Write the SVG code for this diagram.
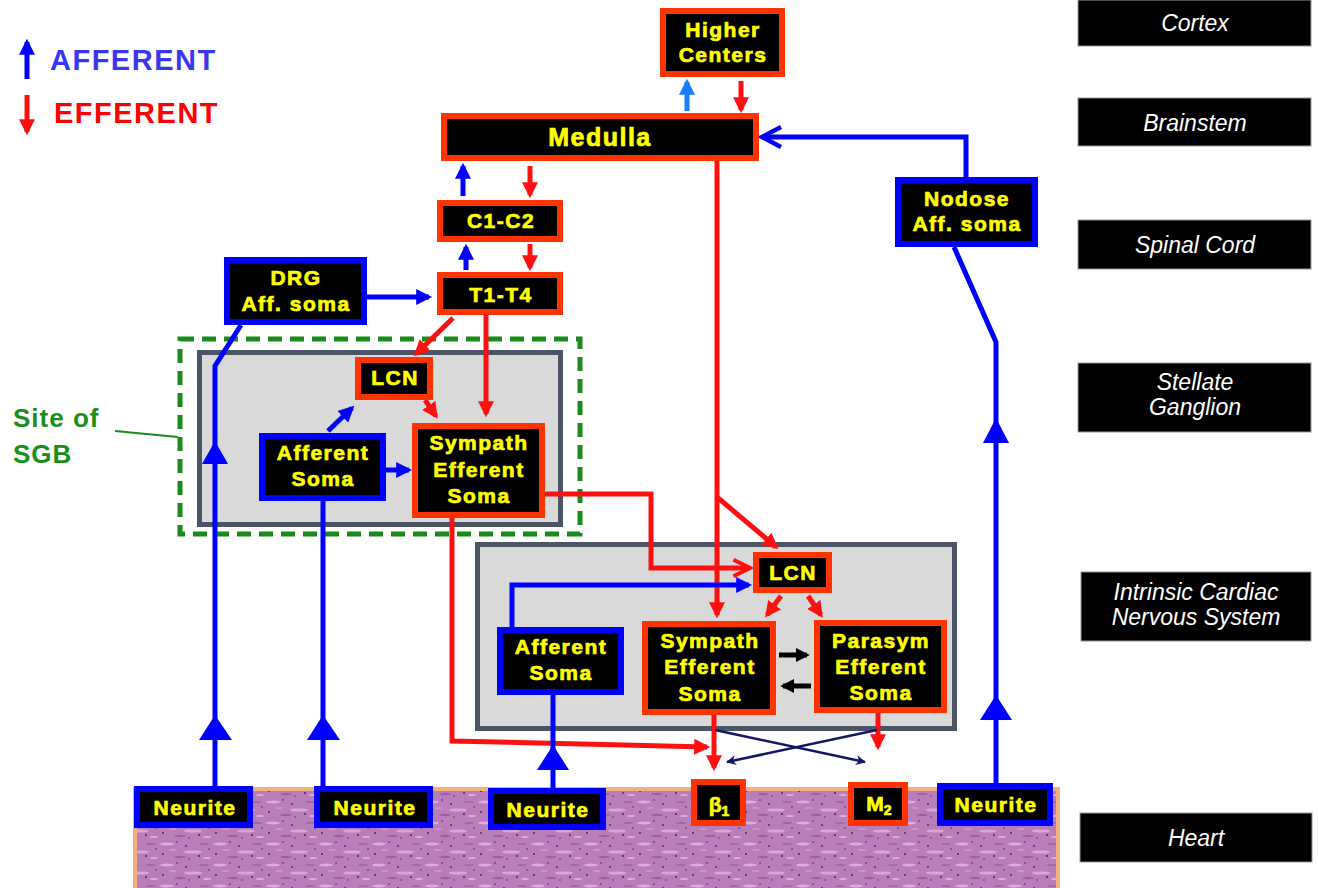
<svg xmlns="http://www.w3.org/2000/svg" width="1318" height="888" viewBox="0 0 1318 888">
<defs>
<style>
.bx{font-family:"Liberation Sans",Arial,sans-serif;font-weight:bold;fill:#ffff00;stroke:#ffff00;stroke-width:0.7px;text-anchor:middle;font-size:21px;letter-spacing:1.5px}
.lvl{font-family:"Liberation Sans",Arial,sans-serif;font-style:italic;fill:#ffffff;text-anchor:middle;font-size:23px}
.lvlbox{fill:#000000;stroke:#9a9a9a;stroke-width:1}
.efb{fill:#000000;stroke:#ff3300;stroke-width:6}
.afb{fill:#000000;stroke:#0000ff;stroke-width:6}
.gray{fill:#d9d9d9;stroke:#4b5566;stroke-width:5}
.r{fill:none;stroke:#ff1010;stroke-width:5}
.b{fill:none;stroke:#0000ff;stroke-width:5}
.lb{fill:none;stroke:#1a7cff;stroke-width:5}
.k{fill:none;stroke:#000000;stroke-width:5}
.n{fill:none;stroke:#161666;stroke-width:2.5}
.tri{fill:#0000ff}
.lg{font-family:"Liberation Sans",Arial,sans-serif;font-weight:bold;font-size:29px;letter-spacing:1.5px}
.sgb{font-family:"Liberation Sans",Arial,sans-serif;font-weight:bold;font-size:26px;letter-spacing:1px;fill:#1a8f1a}
</style>
<marker id="aR" markerUnits="userSpaceOnUse" viewBox="0 0 10 10" markerWidth="16" markerHeight="16" refX="8" refY="5" orient="auto"><path d="M0,0 L10,5 L0,10 z" fill="#ff1010"/></marker>
<marker id="aB" markerUnits="userSpaceOnUse" viewBox="0 0 10 10" markerWidth="16" markerHeight="16" refX="8" refY="5" orient="auto"><path d="M0,0 L10,5 L0,10 z" fill="#0000ff"/></marker>
<marker id="aLB" markerUnits="userSpaceOnUse" viewBox="0 0 10 10" markerWidth="16" markerHeight="16" refX="8" refY="5" orient="auto"><path d="M0,0 L10,5 L0,10 z" fill="#1a7cff"/></marker>
<marker id="aK" markerUnits="userSpaceOnUse" viewBox="0 0 10 10" markerWidth="14" markerHeight="14" refX="8" refY="5" orient="auto"><path d="M0,0 L10,5 L0,10 z" fill="#000000"/></marker>
<marker id="aN" markerUnits="userSpaceOnUse" viewBox="0 0 10 10" markerWidth="13" markerHeight="10" refX="9" refY="5" orient="auto"><path d="M0,0 L10,5 L0,10 L3,5 z" fill="#161666"/></marker>
<marker id="cB" markerUnits="userSpaceOnUse" viewBox="0 0 24 24" markerWidth="24" markerHeight="24" refX="21" refY="12" orient="auto"><path d="M2,2 L21,12 L2,22" fill="none" stroke="#0000ff" stroke-width="4.5"/></marker>
<marker id="cR" markerUnits="userSpaceOnUse" viewBox="0 0 24 24" markerWidth="22" markerHeight="22" refX="21" refY="12" orient="auto"><path d="M3,3 L21,12 L3,21" fill="none" stroke="#ff1010" stroke-width="4.5"/></marker>
<pattern id="tissue" patternUnits="userSpaceOnUse" width="53" height="21">
<rect width="53" height="21" fill="#b97db9"/>
<ellipse cx="8" cy="4" rx="7" ry="1.4" fill="#dbaedb"/>
<ellipse cx="34" cy="12" rx="9" ry="1.6" fill="#d6a8d8"/>
<ellipse cx="21" cy="17" rx="6" ry="1.2" fill="#9c5ea0"/>
<ellipse cx="45" cy="4" rx="5" ry="1.1" fill="#a266a6"/>
<ellipse cx="14" cy="10" rx="4" ry="1" fill="#cb95cb"/>
<ellipse cx="48" cy="18" rx="4" ry="1" fill="#d9b0da"/>
<circle cx="4" cy="14" r="1" fill="#4a1f5e"/>
<circle cx="27" cy="6" r="0.9" fill="#4a1f5e"/>
<circle cx="40" cy="16" r="1" fill="#4a1f5e"/>
<circle cx="50" cy="9" r="0.8" fill="#4a1f5e"/>
<circle cx="18" cy="2" r="0.8" fill="#4a1f5e"/>
<circle cx="30" cy="19" r="0.7" fill="#4a1f5e"/>
</pattern>
</defs>
<rect width="1318" height="888" fill="#ffffff"/>

<g id="legend">
<line x1="27" y1="79" x2="27" y2="42" class="b" marker-end="url(#aB)"/>
<text class="lg" x="50" y="70" fill="#3737f2">AFFERENT</text>
<line x1="27" y1="95" x2="27" y2="132" class="r" marker-end="url(#aR)"/>
<text class="lg" x="54" y="123" fill="#ff0000">EFFERENT</text>
</g>

<g id="levels">
<rect class="lvlbox" x="1078" y="0" width="233" height="46"/>
<text class="lvl" x="1195" y="31">Cortex</text>
<rect class="lvlbox" x="1078" y="98" width="233" height="48"/>
<text class="lvl" x="1195" y="131">Brainstem</text>
<rect class="lvlbox" x="1078" y="220" width="233" height="49"/>
<text class="lvl" x="1195" y="253">Spinal Cord</text>
<rect class="lvlbox" x="1078" y="363" width="233" height="69"/>
<text class="lvl" x="1195" y="390">Stellate</text>
<text class="lvl" x="1195" y="415">Ganglion</text>
<rect class="lvlbox" x="1081" y="572" width="230" height="69"/>
<text class="lvl" x="1196" y="600">Intrinsic Cardiac</text>
<text class="lvl" x="1196" y="625">Nervous System</text>
<rect class="lvlbox" x="1080" y="813" width="232" height="49"/>
<text class="lvl" x="1196" y="846">Heart</text>
</g>

<g id="heart-tissue">
<rect x="135" y="789" width="923" height="101" fill="url(#tissue)" stroke="#f2b07f" stroke-width="4"/>
</g>

<g id="stellate-ganglion">
<rect class="gray" x="199.5" y="352.5" width="361" height="172"/>
</g>
<g id="sgb-site">
<rect x="180" y="339" width="400" height="195" fill="none" stroke="#1a8a1a" stroke-width="5" stroke-dasharray="14,8"/>
<text class="sgb" x="13" y="427">Site of</text>
<text class="sgb" x="13" y="463">SGB</text>
<line x1="115" y1="431" x2="178" y2="437" stroke="#1a8a1a" stroke-width="2"/>
</g>
<g id="icns">
<rect class="gray" x="477.5" y="544.5" width="477" height="184"/>
</g>

<g id="connectors">
<line x1="687" y1="111" x2="687" y2="82" class="lb" marker-end="url(#aLB)"/>
<line x1="741" y1="81" x2="741" y2="110" class="r" marker-end="url(#aR)"/>
<line x1="463" y1="196" x2="463" y2="166" class="b" marker-end="url(#aB)"/>
<line x1="530" y1="166" x2="530" y2="195" class="r" marker-end="url(#aR)"/>
<line x1="466" y1="270" x2="466" y2="247" class="b" marker-end="url(#aB)"/>
<line x1="530" y1="244" x2="530" y2="268" class="r" marker-end="url(#aR)"/>
<line x1="367" y1="297" x2="429" y2="297" class="b" marker-end="url(#aB)"/>
<path d="M966,177 L966,137 L762,137" class="b" marker-end="url(#cB)"/>
<line x1="453" y1="318" x2="416" y2="354" class="r" marker-end="url(#aR)"/>
<line x1="486" y1="315" x2="486" y2="414" class="r" marker-end="url(#aR)"/>
<line x1="425" y1="400" x2="436" y2="416" class="r" marker-end="url(#aR)"/>
<line x1="328" y1="431" x2="352" y2="408" class="b" marker-end="url(#aB)"/>
<line x1="386" y1="470" x2="409" y2="470" class="b" marker-end="url(#aB)"/>
<path d="M241,325 L215,366 L215,786" class="b"/>
<polygon class="tri" points="215,441 202,464 228,464"/>
<polygon class="tri" points="215,715 199,740 232,740"/>
<line x1="323" y1="501" x2="323" y2="786" class="b"/>
<polygon class="tri" points="323,715 307,740 340,740"/>
<path d="M954,247 L996,342 L996,783" class="b"/>
<polygon class="tri" points="996,418 983,443 1009,443"/>
<polygon class="tri" points="996,695 980,720 1012,720"/>
<path d="M545,494 L651,494 L651,568 L750,568" class="r" marker-end="url(#cR)"/>
<path d="M452,518 L452,741 L707,747" class="r" marker-end="url(#aR)"/>
<line x1="717" y1="161" x2="717" y2="615" class="r" marker-end="url(#aR)"/>
<line x1="717" y1="497" x2="776" y2="547" class="r" marker-end="url(#aR)"/>
<path d="M512,627 L512,585 L749,585" class="b" marker-end="url(#aB)"/>
<line x1="553" y1="695" x2="553" y2="788" class="b"/>
<polygon class="tri" points="553,745 537,770 569,770"/>
<line x1="781" y1="596" x2="767" y2="615" class="r" marker-end="url(#aR)"/>
<line x1="808" y1="596" x2="821" y2="615" class="r" marker-end="url(#aR)"/>
<line x1="779" y1="655" x2="807" y2="655" class="k" marker-end="url(#aK)"/>
<line x1="811" y1="686" x2="783" y2="686" class="k" marker-end="url(#aK)"/>
<line x1="714" y1="715" x2="714" y2="768" class="r" marker-end="url(#aR)"/>
<line x1="878" y1="713" x2="878" y2="747" class="r" marker-end="url(#aR)"/>
<line x1="715" y1="730" x2="865" y2="762" class="n" marker-end="url(#aN)"/>
<line x1="877" y1="730" x2="727" y2="762" class="n" marker-end="url(#aN)"/>
</g>

<g id="node-higher-centers">
<rect class="efb" x="663" y="11" width="119" height="63"/>
<text class="bx" x="723" y="37">Higher</text>
<text class="bx" x="723" y="62">Centers</text>
</g>
<g id="node-medulla">
<rect class="efb" x="444" y="116" width="312" height="42"/>
<text class="bx" x="600" y="146" style="font-size:25px">Medulla</text>
</g>
<g id="node-c1c2">
<rect class="efb" x="440" y="203" width="120" height="36"/>
<text class="bx" x="501" y="228">C1-C2</text>
</g>
<g id="node-t1t4">
<rect class="efb" x="440" y="275" width="120" height="37"/>
<text class="bx" x="501" y="302">T1-T4</text>
</g>
<g id="node-drg">
<rect class="afb" x="227" y="260" width="137" height="62"/>
<text class="bx" x="296" y="285">DRG</text>
<text class="bx" x="296" y="311">Aff. soma</text>
</g>
<g id="node-nodose">
<rect class="afb" x="898" y="180" width="137" height="64"/>
<text class="bx" x="967" y="206">Nodose</text>
<text class="bx" x="967" y="231">Aff. soma</text>
</g>
<g id="node-lcn-stellate">
<rect class="efb" x="358" y="360" width="72" height="37"/>
<text class="bx" x="395" y="385">LCN</text>
</g>
<g id="node-sympath-stellate">
<rect class="efb" x="415" y="426" width="127" height="89"/>
<text class="bx" x="479" y="450">Sympath</text>
<text class="bx" x="479" y="477">Efferent</text>
<text class="bx" x="479" y="503">Soma</text>
</g>
<g id="node-afferent-stellate">
<rect class="afb" x="262" y="436" width="121" height="62"/>
<text class="bx" x="323" y="460">Afferent</text>
<text class="bx" x="323" y="486">Soma</text>
</g>
<g id="node-lcn-icns">
<rect class="efb" x="756" y="555" width="73" height="35"/>
<text class="bx" x="793" y="580">LCN</text>
</g>
<g id="node-sympath-icns">
<rect class="efb" x="645" y="624" width="128" height="88"/>
<text class="bx" x="710" y="648">Sympath</text>
<text class="bx" x="710" y="674">Efferent</text>
<text class="bx" x="710" y="701">Soma</text>
</g>
<g id="node-parasym-icns">
<rect class="efb" x="817" y="623" width="127" height="87"/>
<text class="bx" x="881" y="648">Parasym</text>
<text class="bx" x="881" y="674">Efferent</text>
<text class="bx" x="881" y="700">Soma</text>
</g>
<g id="node-afferent-icns">
<rect class="afb" x="500" y="630" width="121" height="62"/>
<text class="bx" x="561" y="654">Afferent</text>
<text class="bx" x="561" y="680">Soma</text>
</g>
<g id="node-beta1">
<rect class="efb" x="694" y="782" width="49" height="41"/>
<text class="bx" x="719" y="812" style="letter-spacing:0">β<tspan font-size="14" dy="4">1</tspan></text>
</g>
<g id="node-m2">
<rect class="efb" x="851" y="785" width="54" height="38"/>
<text class="bx" x="879" y="811" style="letter-spacing:0">M<tspan font-size="14" dy="4">2</tspan></text>
</g>
<g id="node-neurite-1">
<rect class="afb" x="137" y="789" width="113" height="36"/>
<text class="bx" x="195" y="815">Neurite</text>
</g>
<g id="node-neurite-2">
<rect class="afb" x="317" y="789" width="113" height="36"/>
<text class="bx" x="375" y="815">Neurite</text>
</g>
<g id="node-neurite-3">
<rect class="afb" x="491" y="791" width="112" height="36"/>
<text class="bx" x="548" y="817">Neurite</text>
</g>
<g id="node-neurite-4">
<rect class="afb" x="940" y="786" width="110" height="37"/>
<text class="bx" x="996" y="812">Neurite</text>
</g>
</svg>
